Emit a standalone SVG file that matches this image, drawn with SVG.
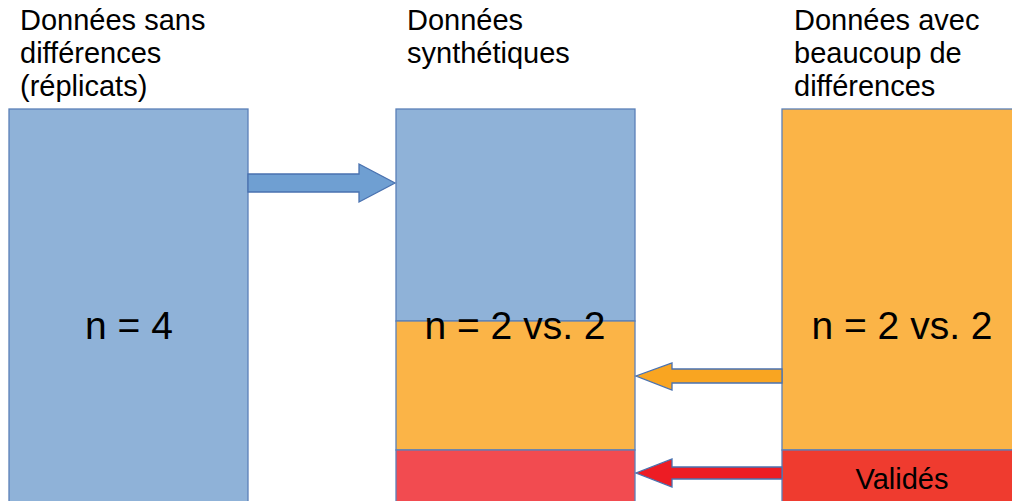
<svg xmlns="http://www.w3.org/2000/svg" width="1012" height="501" viewBox="0 0 1012 501">
<style>
.lbl{font-family:"Liberation Sans",Arial,sans-serif;font-size:29px;fill:#000}
.big{font-family:"Liberation Sans",Arial,sans-serif;font-size:39px;fill:#000;text-anchor:middle}
.box{stroke:#5B80B8;stroke-width:1.3}
.arr{stroke:#4A72B0;stroke-width:1.3}
</style>
<rect width="1012" height="501" fill="#fff"/>
<g id="left">
<rect class="box" x="9" y="109" width="239" height="400" fill="#8FB2D8"/>
<text class="lbl" x="20" y="30">Données sans</text>
<text class="lbl" x="20" y="63">différences</text>
<text class="lbl" x="20" y="96">(réplicats)</text>
<text class="big" x="129" y="339">n = 4</text>
</g>
<g id="middle">
<rect class="box" x="396" y="109" width="239" height="212" fill="#8FB2D8"/>
<rect class="box" x="396" y="321" width="239" height="129" fill="#FBB447"/>
<rect class="box" x="396" y="450" width="239" height="60" fill="#F24B50"/>
<text class="lbl" x="407" y="30">Données</text>
<text class="lbl" x="407" y="63">synthétiques</text>
<text class="big" x="515" y="339">n = 2 vs. 2</text>
</g>
<g id="right">
<rect class="box" x="782" y="109" width="240" height="341" fill="#FBB447"/>
<rect class="box" x="782" y="450" width="240" height="60" fill="#EF3B2F"/>
<text class="lbl" x="794" y="30">Données avec</text>
<text class="lbl" x="794" y="63">beaucoup de</text>
<text class="lbl" x="794" y="96">différences</text>
<text class="big" x="902" y="339">n = 2 vs. 2</text>
<text class="lbl" x="902" y="489" text-anchor="middle">Validés</text>
</g>
<g id="connectors">
<polygon class="arr" fill="#6F9FD2" points="248,174 359,174 359,164 395,183 359,202 359,192 248,192"/>
<polygon class="arr" fill="#F9A521" points="782,369 672,369 672,363 636,376 672,390 672,383 782,383"/>
<polygon class="arr" fill="#ED1C24" points="782,467 672,467 672,459 636,473 672,487 672,479 782,479"/>
</g>
</svg>
